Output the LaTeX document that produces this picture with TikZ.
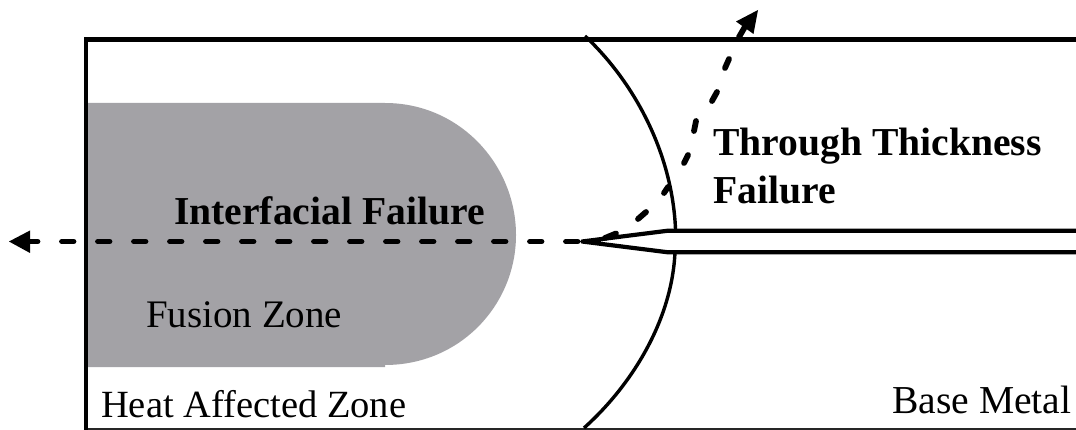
\documentclass[tikz,border=0pt]{standalone}
\usepackage{fontspec}
\setmainfont{Liberation Serif}
\definecolor{fusion}{RGB}{163,162,166}
\tikzset{
  x=1pt,y=-1pt,
  solidline/.style={draw=black,line width=4.2pt},
  baseline/.style={draw=black!85,line width=2pt},
  thinline/.style={draw=black,line width=3.4pt},
  tipline/.style={draw=black,line width=4.2pt,line join=round},
  failpath/.style={draw=black,line width=5.8pt,line cap=round,dash pattern=on 11.5pt off 24.5pt},
  failseg/.style={draw=black,line width=5.8pt,line cap=round},
  headtip/.style={draw=none,fill=black},
  lbl/.style={anchor=base west,inner sep=0pt,text=black},
  lblbold/.style={lbl,font=\fontsize{39.6}{44}\selectfont\bfseries},
  lblreg/.style={lbl,font=\fontsize{39}{42}\selectfont},
}
\begin{document}
\begin{tikzpicture}
\useasboundingbox (0,0) rectangle (1076,430);
% fusion zone
\fill[fusion] (87,103) -- (385,103) .. controls (460,103) and (516,165) .. (516,235) .. controls (516,305) and (460,365) .. (385,365) -- (385,367) -- (87,367) -- cycle;
% frame
\draw[baseline] (84,428.5) -- (1076,428.5);
\draw[solidline] (1076,39.5) -- (86,39.5) -- (86,430);
% fusion boundary
\draw[thinline] (585,36) .. controls (632,80) and (672,150) .. (675.5,229);
\draw[thinline] (675,252) .. controls (672,320) and (632,385) .. (584,428);
% crack
\coordinate (tip) at (582,241.5);
\draw[tipline] (1076,230.7) -- (668,230.7) -- (tip) -- (668,252.3) -- (1076,252.3);
% failure paths
\draw[failpath] (577.5,241.5) -- (27,241.5);
\fill[headtip] (9,241.5) -- (30,230.5) -- (30,253) -- cycle;
\draw[failseg] (605,238) -- (616,233.5) (638,219) -- (646,212) (664,193) -- (668,187) (684,163) -- (688,155) (694,131) -- (696,121) (712,101) -- (717,92) (725,68) -- (729,59) (739,37) -- (746,25);
\fill[headtip] (758,10) -- (736,21.5) -- (753.5,34) -- cycle;
% labels
\node[lblbold] (tt1) at (713,156) {Through Thickness};
\node[lblbold] (tt2) at (713,204) {Failure};
\node[lblbold] (ifl) at (174,225) {Interfacial Failure};
\node[lblreg] (fz) at (146,327) {Fusion Zone};
\node[lblreg,font=\fontsize{38.5}{42}\selectfont] (haz) at (101,417) {Heat Affected Zone};
\node[lblreg,font=\fontsize{39.6}{42}\selectfont] (bm) at (892,413) {Base Metal};
\end{tikzpicture}
\end{document}
